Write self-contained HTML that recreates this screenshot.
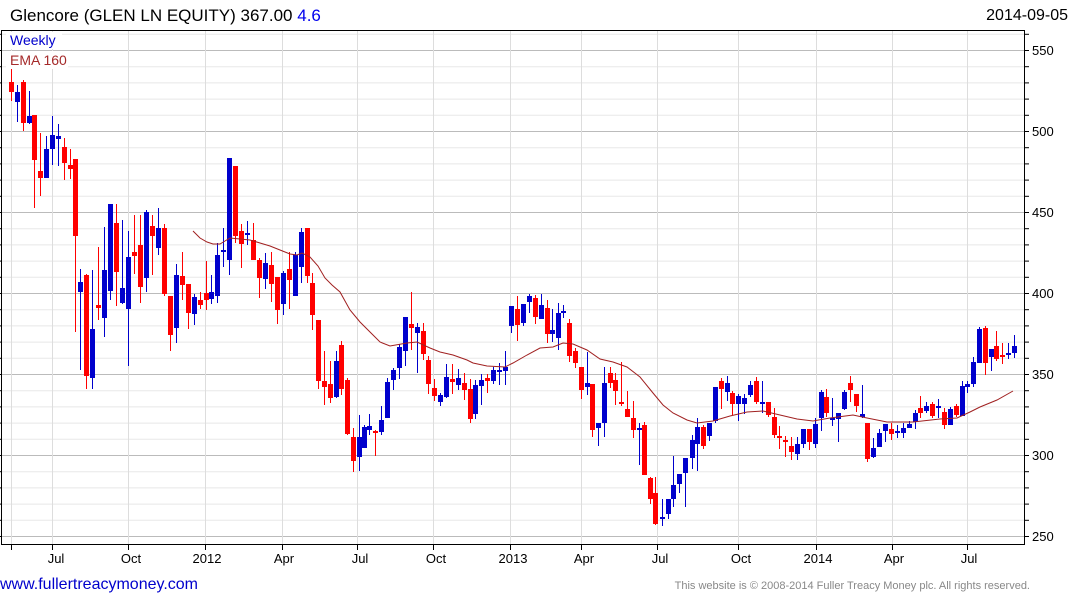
<!DOCTYPE html>
<html><head><meta charset="utf-8"><style>
html,body{margin:0;padding:0;background:#fff;}
svg{display:block;font-family:"Liberation Sans",Arial,sans-serif;}
</style></head><body>
<svg id="c" width="1075" height="600" viewBox="0 0 1075 600" xmlns="http://www.w3.org/2000/svg">
<g id="grid"></g>
<g id="candles"></g>
<polyline id="ema" fill="none" stroke="#a02020" stroke-width="1" points="193,231 200,238 207,242 213,244 220,244 225,241 230,238 240,239 250,240 260,243 270,246 280,250 290,254 297,255 302,253 310,257 318,266 325,278 332,285 340,292 350,310 360,322 370,332 380,342 390,346 407,343 417,342 430,348 440,352 453,355 467,360 473,363 487,366 505,367 513,363 527,355 540,348 553,347 563,343 573,344 587,350 600,359 613,362 627,367 640,377 653,393 663,405 673,413 687,420 697,423 713,421 730,416 747,412 763,411 780,415 797,419 813,421 830,418 853,415 867,418 887,422 913,422 940,419 957,418 970,412 980,407 997,400 1013,391"/>
<rect x="1.5" y="30.5" width="1023" height="514" fill="none" stroke="#000" stroke-width="1"/>
<rect x="6" y="32" width="56" height="17" fill="#fff"/>
<rect x="6" y="51" width="62" height="18" fill="#fff"/>
<text x="10" y="45" font-size="14" fill="#0000cc">Weekly</text>
<text x="10" y="65" font-size="14" fill="#a52a2a">EMA 160</text>
<text x="10" y="21" font-size="17" fill="#000">Glencore (GLEN LN EQUITY) 367.00 <tspan fill="#0000ee">4.6</tspan></text>
<text x="1068" y="20" font-size="16" fill="#000" text-anchor="end">2014-09-05</text>
<g font-size="13" fill="#000">
<text x="1032" y="55">550</text><text x="1032" y="136">500</text><text x="1032" y="217">450</text>
<text x="1032" y="298">400</text><text x="1032" y="379">350</text><text x="1032" y="460">300</text><text x="1032" y="541">250</text>
</g>
<g font-size="13" fill="#000" text-anchor="middle">
<text x="56" y="563">Jul</text><text x="131" y="563">Oct</text><text x="207" y="563">2012</text>
<text x="284" y="563">Apr</text><text x="360" y="563">Jul</text><text x="436" y="563">Oct</text>
<text x="513" y="563">2013</text><text x="584" y="563">Apr</text><text x="660" y="563">Jul</text>
<text x="741" y="563">Oct</text><text x="818" y="563">2014</text><text x="894" y="563">Apr</text><text x="969" y="563">Jul</text>
</g>
<text x="0" y="589" font-size="16" fill="#0000cc">www.fullertreacymoney.com</text>
<text x="1030" y="589" font-size="11" fill="#888" text-anchor="end">This website is © 2008-2014 Fuller Treacy Money plc. All rights reserved.</text>
</svg>
<script>
var NS="http://www.w3.org/2000/svg";
function el(p,t,a){var e=document.createElementNS(NS,t);for(var k in a)e.setAttribute(k,a[k]);p.appendChild(e);return e;}
var g=document.getElementById('grid');
for(var v=250;v<=560;v+=10){var y=50+(550-v)*1.62;if(y<31||y>544)continue;
 var major=(v%50===0);
 el(g,'line',{x1:2,x2:1025,y1:y+0.5,y2:y+0.5,stroke:major?'#bbbbbb':'#e8e8e8','stroke-width':1});
 el(g,'line',{x1:1025,x2:1029,y1:y+0.5,y2:y+0.5,stroke:'#000'});
 el(g,'line',{x1:0,x2:2,y1:y+0.5,y2:y+0.5,stroke:'#000'});
}
var vx=[11,52,128,205,282,357,433,510,581,657,738,816,892,967];
vx.forEach(function(x){el(g,'line',{x1:x+0.5,x2:x+0.5,y1:31,y2:544,stroke:'#dddddd'});
 el(g,'line',{x1:x+0.5,x2:x+0.5,y1:544,y2:550,stroke:'#000'});});
var D=[
[11,82,92,68,101,'r'],[17,92,102,85,122,'b'],[23,82,123,80,131,'r'],[29,116,123,91,124,'b'],[34,115,160,115,208,'r'],
[40,171,178,133,196,'r'],[46,149,178,136,178,'b'],[52,135,149,116,165,'b'],[58,136,139,124,166,'b'],[64,147,163,138,180,'r'],
[70,165,169,149,179,'r'],[75,159,236,159,332,'r'],
[80,282,292,269,370,'b'],[86,275,376,274,389,'r'],[92,329,378,270,389,'b'],[98,305,308,247,320,'r'],[104,270,318,227,337,'b'],
[110,204,291,204,300,'b'],[116,223,272,204,306,'r'],[122,288,303,220,304,'b'],[128,257,309,231,366,'b'],[134,252,256,215,274,'r'],
[140,245,287,215,303,'r'],[146,212,278,210,292,'b'],[152,226,236,215,275,'r'],[158,228,248,208,255,'b'],[164,228,294,224,296,'r'],
[170,296,335,296,351,'r'],[176,275,328,264,343,'b'],[182,276,285,252,300,'r'],[188,284,313,284,329,'r'],[194,297,314,294,325,'b'],
[200,300,305,292,309,'r'],[206,293,300,261,310,'r'],[211,292,299,275,304,'b'],[217,255,296,243,303,'b'],[223,250,252,228,267,'b'],
[229,158,260,158,275,'b'],[235,166,236,166,243,'r'],[241,231,244,224,268,'r'],[247,233,235,221,245,'b'],[253,240,260,223,260,'r'],
[259,260,278,258,298,'r'],[265,263,279,253,289,'b'],[271,265,284,252,302,'r'],[277,277,310,277,324,'r'],[283,273,304,271,315,'b'],
[289,269,280,252,309,'r'],[295,255,296,252,296,'b'],[301,232,267,228,283,'b'],[307,228,276,228,283,'r'],[312,283,315,273,330,'r'],
[318,320,381,320,389,'r'],[324,381,387,351,405,'r'],[330,384,398,361,403,'r'],[336,361,397,351,398,'b'],[341,345,389,341,395,'r'],
[347,380,434,378,435,'r'],[353,437,461,428,472,'r'],[359,437,457,415,471,'b'],
[364,427,448,425,448,'b'],[369,426,430,414,435,'b'],[375,431,433,430,456,'r'],[381,420,432,406,435,'b'],[387,382,418,378,418,'b'],
[393,370,380,368,390,'b'],[399,347,368,344,379,'b'],[405,317,351,317,366,'b'],[411,324,328,292,350,'r'],[417,327,333,323,373,'b'],
[423,331,354,323,360,'r'],[428,360,384,356,394,'r'],[434,388,396,379,401,'r'],[440,395,402,393,406,'b'],[446,377,397,364,398,'b'],
[452,379,382,364,394,'r'],[458,378,385,369,390,'b'],[464,383,390,373,400,'r'],[470,389,419,379,423,'r'],[475,385,414,380,419,'b'],
[481,380,386,374,405,'b'],[487,378,381,374,393,'r'],[493,370,381,367,384,'b'],[499,370,372,363,385,'b'],[505,367,371,351,385,'b'],
[511,306,326,306,333,'b'],[517,309,325,296,341,'r'],[523,304,323,304,326,'b'],[529,296,302,294,313,'b'],[535,298,317,295,324,'r'],
[541,305,319,294,319,'b'],[547,308,334,300,343,'r'],[552,330,334,309,342,'b'],[558,313,338,303,350,'b'],[563,311,313,305,318,'b'],
[569,323,356,319,362,'r'],[575,351,363,348,368,'r'],[581,367,390,367,399,'r'],[587,383,387,352,395,'b'],[592,384,430,384,437,'r'],
[598,423,428,423,446,'b'],[604,383,423,367,437,'b'],[610,373,383,367,388,'r'],[615,380,391,373,405,'r'],[621,402,404,362,406,'r'],
[627,409,417,391,417,'r'],[633,418,430,401,438,'r'],[639,428,430,423,465,'b'],[644,425,475,422,475,'r'],[650,478,499,477,504,'r'],
[655,493,524,477,525,'r'],[662,517,519,499,526,'b'],[668,499,514,499,519,'b'],[673,485,499,456,507,'b'],[679,474,484,474,493,'b'],
[685,458,473,458,507,'b'],
[692,440,458,435,469,'b'],[697,427,444,418,471,'b'],[703,427,446,425,449,'r'],[709,423,436,423,441,'b'],[715,387,421,387,423,'b'],
[721,381,389,378,409,'r'],[727,383,392,376,401,'b'],[732,393,404,391,415,'r'],[738,396,404,394,421,'b'],[744,398,404,394,414,'b'],
[750,385,395,381,397,'b'],[756,381,402,377,404,'r'],[762,402,404,381,413,'b'],[768,402,415,402,417,'r'],[774,417,435,408,438,'r'],
[779,436,437,426,449,'r'],[785,440,442,436,457,'r'],[791,446,452,437,460,'r'],[797,444,454,437,460,'b'],[803,429,444,429,448,'b'],
[809,429,442,429,450,'r'],[815,424,444,418,448,'b'],[821,392,418,390,431,'b'],[826,397,413,389,417,'r'],[832,418,420,398,426,'b'],
[838,413,419,413,442,'b'],[844,392,409,390,410,'b'],[850,383,390,376,402,'r'],[856,394,406,394,412,'r'],[862,414,417,385,418,'b'],
[867,423,459,423,462,'r'],[873,448,457,438,458,'b'],[879,433,447,429,447,'b'],[885,424,431,424,442,'b'],[891,429,434,423,440,'r'],
[897,431,433,425,438,'b'],[903,428,433,423,438,'b'],[909,424,428,421,428,'b'],[915,413,422,410,429,'b'],[920,408,413,396,418,'r'],
[926,406,411,402,413,'b'],[932,404,416,402,418,'r'],[938,406,408,399,418,'b'],[944,412,425,408,429,'r'],[950,409,425,407,425,'b'],
[956,406,415,404,417,'r'],[962,386,416,381,416,'b'],[967,384,387,381,393,'b'],[973,362,384,357,387,'b'],[979,329,363,327,363,'b'],
[985,328,363,326,375,'r'],[991,349,357,349,371,'b'],[996,346,359,331,361,'r'],[1002,355,357,343,364,'r'],[1008,353,355,343,359,'b'],
[1014,346,353,335,358,'b']
];
var cg=document.getElementById('candles');
D.forEach(function(d){var col=d[5]==='r'?'#ff0000':'#0000cc';var x=d[0];
 el(cg,'rect',{x:x,y:d[3],width:1,height:Math.max(1,d[4]-d[3]),fill:col});
 var h=Math.max(2,d[2]-d[1]);
 el(cg,'rect',{x:x-2,y:d[1],width:5,height:h,fill:col});
});
</script>
</body></html>
